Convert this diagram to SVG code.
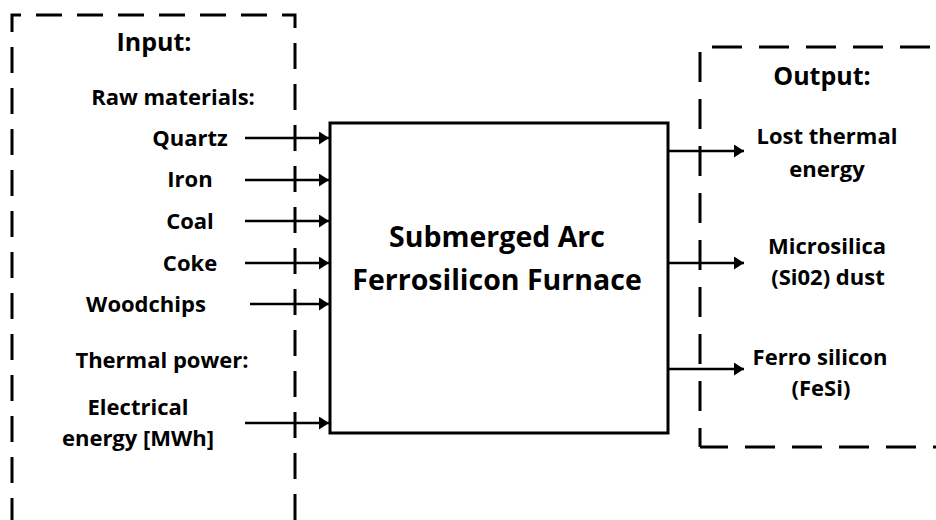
<svg xmlns="http://www.w3.org/2000/svg" width="936" height="520" viewBox="0 0 936 520">
  <style>
    text { font-family: "Open Sans", "Liberation Sans", sans-serif; font-weight: bold; fill: #000; text-anchor: middle; }
    .h { font-size: 25px; }
    .l { font-size: 22px; }
    .f { font-size: 28.5px; }
    .dashL { fill: none; stroke: #000; stroke-width: 3; stroke-dasharray: 26 15; }
    .dashR { fill: none; stroke: #000; stroke-width: 3; stroke-dasharray: 30 17; }
    .conn { stroke: #000; stroke-width: 2.5; fill: none; }
  </style>
  <defs>
    <marker id="arrow" markerUnits="userSpaceOnUse" markerWidth="12" markerHeight="14" refX="10" refY="6.5" orient="auto">
      <path d="M0,0 L10,6.5 L0,13 Z" fill="#000"/>
    </marker>
  </defs>
  <rect width="936" height="520" fill="#fff"/>

  <g id="input-group">
    <path class="dashL" d="M12,540 V15 H295 V540" stroke-dashoffset="-16"/>
    <text class="h" x="154" y="51">Input:</text>
    <text class="l" x="173" y="105">Raw materials:</text>
    <text class="l" x="190" y="146">Quartz</text>
    <text class="l" x="190" y="187">Iron</text>
    <text class="l" x="190" y="229">Coal</text>
    <text class="l" x="190" y="271">Coke</text>
    <text class="l" x="146" y="312">Woodchips</text>
    <text class="l" x="162" y="368">Thermal power:</text>
    <text class="l" x="138" y="415">Electrical</text>
    <text class="l" x="138" y="446">energy [MWh]</text>
  </g>

  <g id="output-group">
    <path class="dashR" d="M700,447 V47 H950" stroke-dashoffset="11"/>
    <path class="dashR" d="M700,447 H950" stroke-dashoffset="2"/>
    <text class="h" x="822" y="85">Output:</text>
    <text class="l" x="827" y="144">Lost thermal</text>
    <text class="l" x="827" y="177">energy</text>
    <text class="l" x="827" y="254">Microsilica</text>
    <text class="l" x="828" y="285">(Si02) dust</text>
    <text class="l" x="820" y="365">Ferro silicon</text>
    <text class="l" x="821" y="396">(FeSi)</text>
  </g>

  <g id="furnace">
    <rect x="330" y="123" width="338" height="310" fill="#fff" stroke="#000" stroke-width="3"/>
    <text class="f" x="497" y="247">Submerged Arc</text>
    <text class="f" x="497" y="290">Ferrosilicon Furnace</text>
  </g>

  <g id="connectors">
    <line class="conn" x1="245" y1="138" x2="329" y2="138" marker-end="url(#arrow)"/>
    <line class="conn" x1="245" y1="180" x2="329" y2="180" marker-end="url(#arrow)"/>
    <line class="conn" x1="245" y1="221" x2="329" y2="221" marker-end="url(#arrow)"/>
    <line class="conn" x1="245" y1="263" x2="329" y2="263" marker-end="url(#arrow)"/>
    <line class="conn" x1="250" y1="304" x2="329" y2="304" marker-end="url(#arrow)"/>
    <line class="conn" x1="245" y1="423" x2="329" y2="423" marker-end="url(#arrow)"/>
    <line class="conn" x1="668" y1="151" x2="744" y2="151" marker-end="url(#arrow)"/>
    <line class="conn" x1="668" y1="263" x2="744" y2="263" marker-end="url(#arrow)"/>
    <line class="conn" x1="668" y1="369" x2="744" y2="369" marker-end="url(#arrow)"/>
  </g>
</svg>
